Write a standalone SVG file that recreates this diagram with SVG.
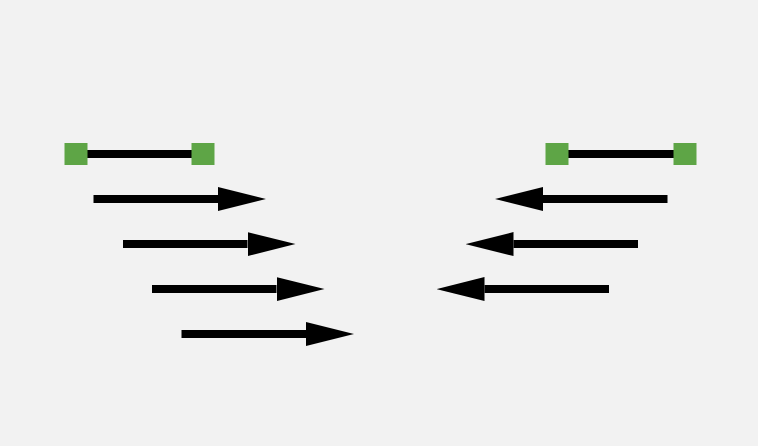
<svg xmlns="http://www.w3.org/2000/svg" width="758" height="446" viewBox="0 0 758 446">
  <style>
    .bar { stroke: #000; stroke-width: 8; fill: none; }
    .arrow { stroke: #000; stroke-width: 8; fill: none; marker-end: url(#head); }
    .sq { fill: #5ea546; }
  </style>
  <defs>
    <marker id="head" markerUnits="userSpaceOnUse" markerWidth="48" markerHeight="24" viewBox="0 0 48 24" refX="0" refY="12" orient="auto">
      <path d="M0,0 L48,12 L0,24 Z" fill="#000"/>
    </marker>
  </defs>
  <rect x="0" y="0" width="758" height="446" fill="#f2f2f2"/>
  <g id="connectors">
    <line class="bar" x1="76" y1="154" x2="203" y2="154"/>
    <line class="bar" x1="557" y1="154" x2="685" y2="154"/>
    <line class="arrow" x1="93.5" y1="199" x2="218" y2="199"/>
    <line class="arrow" x1="123" y1="244" x2="247.5" y2="244"/>
    <line class="arrow" x1="152" y1="289" x2="276.5" y2="289"/>
    <line class="arrow" x1="181.5" y1="334" x2="306" y2="334"/>
    <line class="arrow" x1="667.5" y1="199" x2="543" y2="199"/>
    <line class="arrow" x1="638" y1="244" x2="513.5" y2="244"/>
    <line class="arrow" x1="609" y1="289" x2="484.5" y2="289"/>
  </g>
  <g id="left-start"><rect class="sq" x="64.5" y="143" width="23" height="22"/></g>
  <g id="left-end"><rect class="sq" x="191.5" y="143" width="23" height="22"/></g>
  <g id="right-start"><rect class="sq" x="545.5" y="143" width="23" height="22"/></g>
  <g id="right-end"><rect class="sq" x="673.5" y="143" width="23" height="22"/></g>
</svg>
